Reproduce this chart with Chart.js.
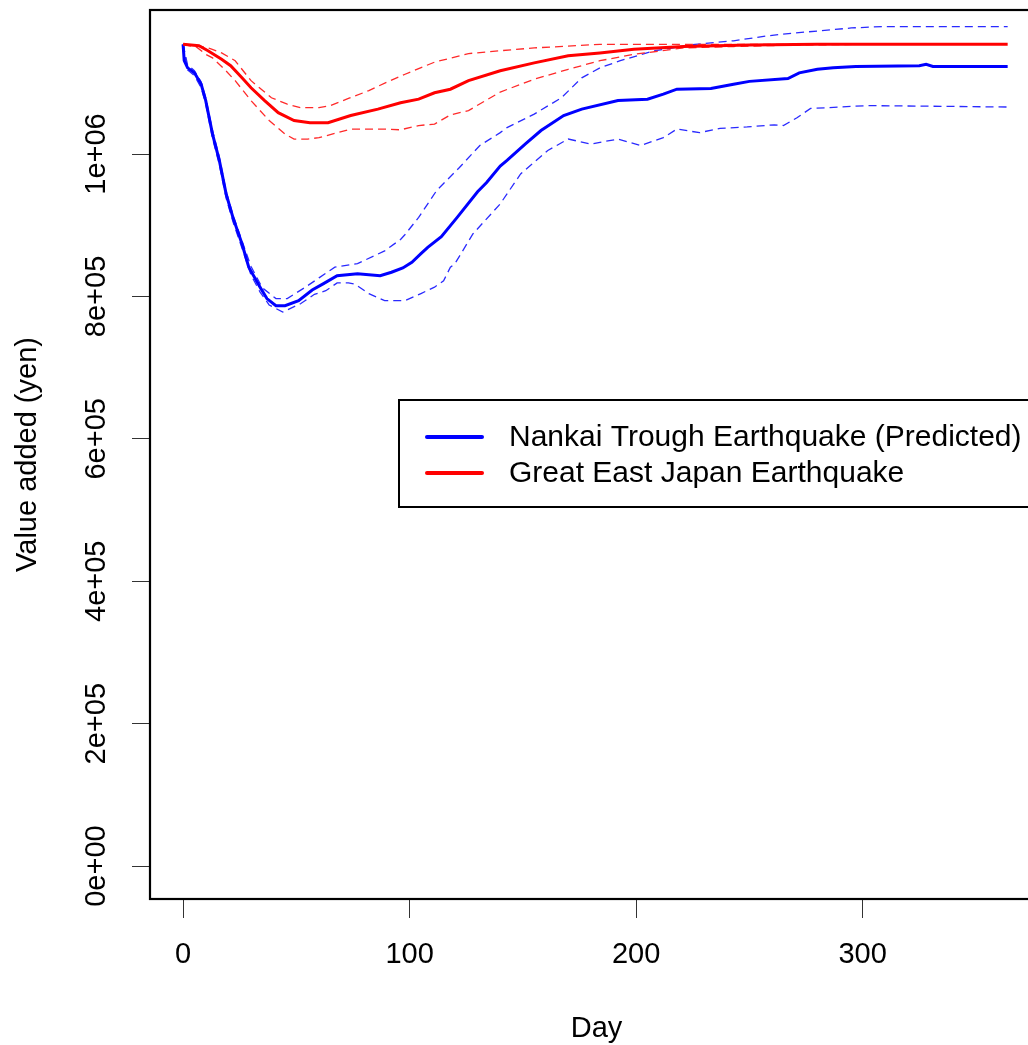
<!DOCTYPE html>
<html>
<head>
<meta charset="utf-8">
<script src="https://cdn.jsdelivr.net/npm/chart.js@4.4.1/dist/chart.umd.min.js"></script>
<style>
body { margin: 0; background: #fff; overflow: hidden; }
</style>
</head>
<body>
<canvas id="chart" width="1050" height="1045"></canvas>
<script>
// Nankai Trough (predicted) - blue
const nankaiDays = [0, 0.5, 2, 5, 8, 10, 13, 16, 19, 22, 26, 29, 34, 37, 41, 45, 51, 57, 62, 68, 77, 87, 92, 97, 101, 105, 108, 114, 121, 130, 134, 140, 143, 151, 158, 168, 176, 192, 205, 212, 218, 233, 243, 250, 267, 272, 280, 287, 297, 325, 328, 331, 364]
const nankaiMid = [1154000, 1131000, 1121000, 1114000, 1098000, 1075000, 1028000, 991000, 944000, 911000, 874000, 841000, 813000, 797000, 787000, 787000, 794000, 809000, 818000, 829000, 832000, 829000, 834000, 840000, 848000, 860000, 869000, 884000, 911000, 947000, 960000, 983000, 991000, 1014000, 1033000, 1054000, 1063000, 1075000, 1077000, 1084000, 1091000, 1092000, 1098000, 1102000, 1106000, 1114000, 1119000, 1121000, 1123000, 1124000, 1126000, 1123000, 1123000]

const nankaiHighDays = [0, 2, 5, 8, 10, 13, 16, 19, 22, 26, 30, 35, 41, 46, 54, 60, 67, 77, 89, 96, 98, 104, 112, 122, 131, 140, 143, 155, 167, 176, 184, 193, 208, 226, 243, 258, 270, 281, 295, 309, 364]
const nankaiHigh = [1154000, 1125000, 1117000, 1101000, 1079000, 1033000, 996000, 948000, 915000, 878000, 842000, 812000, 797000, 797000, 813000, 826000, 841000, 846000, 864000, 880000, 887000, 911000, 949000, 981000, 1012000, 1030000, 1037000, 1056000, 1079000, 1107000, 1121000, 1131000, 1145000, 1154000, 1159000, 1166000, 1170000, 1173000, 1177000, 1179000, 1179000]

const nankaiLowDays = [0, 2, 5, 8, 10, 13, 16, 19, 22, 26, 30, 34, 38, 44, 52, 58, 63, 68, 73, 76, 82, 89, 98, 105, 111, 115, 118, 120, 128, 140, 149, 161, 170, 180, 192, 202, 212, 218, 228, 237, 249, 261, 265, 271, 277, 284, 302, 364]
const nankaiLow = [1154000, 1118000, 1110000, 1093000, 1070000, 1022000, 985000, 938000, 905000, 868000, 830000, 806000, 788000, 778000, 790000, 803000, 808000, 819000, 819000, 817000, 804000, 794000, 794000, 804000, 813000, 822000, 841000, 846000, 888000, 930000, 972000, 1005000, 1021000, 1014000, 1021000, 1012000, 1023000, 1035000, 1030000, 1036000, 1038000, 1041000, 1040000, 1051000, 1064000, 1065000, 1068000, 1066000]

// Great East Japan - red
const tohokuDays = [0, 7, 11, 17, 21, 26, 30, 36, 42, 49, 56, 64, 74, 86, 96, 104, 111, 118, 126, 140, 155, 170, 184, 199, 221, 250, 280, 364]
const tohokuMid = [1154000, 1152000, 1145000, 1133000, 1124000, 1107000, 1093000, 1075000, 1058000, 1047000, 1044000, 1044000, 1054000, 1063000, 1072000, 1077000, 1086000, 1091000, 1103000, 1117000, 1128000, 1138000, 1142000, 1147000, 1151000, 1153000, 1154000, 1154000]

const tohokuHighDays = [0, 7, 12, 17, 23, 30, 39, 46, 52, 60, 65, 73, 82, 90, 98, 111, 126, 140, 155, 184, 213, 300]
const tohokuHigh = [1154000, 1152000, 1148000, 1142000, 1131000, 1103000, 1079000, 1070000, 1065000, 1065000, 1068000, 1078000, 1089000, 1101000, 1112000, 1129000, 1141000, 1145000, 1149000, 1154000, 1154000, 1154000]

const tohokuLowDays = [0, 6, 10, 13, 18, 23, 30, 38, 45, 49, 55, 60, 74, 89, 96, 104, 111, 118, 126, 140, 155, 170, 184, 199, 221, 243, 270, 300]
const tohokuLow = [1154000, 1150000, 1140000, 1135000, 1120000, 1103000, 1075000, 1047000, 1028000, 1021000, 1021000, 1023000, 1035000, 1035000, 1034000, 1040000, 1042000, 1055000, 1061000, 1087000, 1105000, 1119000, 1131000, 1140000, 1149000, 1151000, 1153000, 1154000]

const xTicks = [0, 100, 200, 300]
const yTicks = [0, 200000, 400000, 600000, 800000, 1000000]
const yTickLabels = ['0e+00', '2e+05', '4e+05', '6e+05', '8e+05', '1e+06']
const legendLabels = ['Nankai Trough Earthquake (Predicted)', 'Great East Japan Earthquake']

const FONT = '"Liberation Sans", Arial, Helvetica, sans-serif'
Chart.defaults.font.family = FONT

function pairs(xs, ys) {
    return xs.map((x, i) => ({ x: x, y: ys[i] }))
}

function line(xs, ys, color, dashed, order) {
    return {
        data: pairs(xs, ys),
        borderColor: color,
        borderWidth: dashed ? 1.3 : 3,
        borderDash: dashed ? [8, 5] : [],
        pointRadius: 0,
        tension: 0,
        fill: false,
        order: order
    }
}

const rPlot = {
    id: 'rPlot',
    afterDatasetsDraw(chart) {
        const ctx = chart.ctx
        const a = chart.chartArea
        const yScale = chart.scales.y
        ctx.save()
        // box
        ctx.strokeStyle = '#000'
        ctx.lineWidth = 2.2
        ctx.strokeRect(a.left, a.top, a.right - a.left, a.bottom - a.top)

        // y tick labels, rotated like R
        ctx.fillStyle = '#000'
        ctx.font = '29px ' + FONT
        ctx.textAlign = 'center'
        ctx.textBaseline = 'middle'
        yTicks.forEach(function (v, i) {
            ctx.save()
            ctx.translate(97, yScale.getPixelForValue(v))
            ctx.rotate(-Math.PI / 2)
            ctx.fillText(yTickLabels[i], 0, 0)
            ctx.restore()
        })

        // axis titles
        ctx.fillText('Day', (a.left + a.right) / 2, 1029)
        ctx.save()
        ctx.translate(28, (a.top + a.bottom) / 2)
        ctx.rotate(-Math.PI / 2)
        ctx.fillText('Value added (yen)', 0, 0)
        ctx.restore()

        // legend
        ctx.fillStyle = '#fff'
        ctx.fillRect(399, 400, 660, 107)
        ctx.strokeStyle = '#000'
        ctx.lineWidth = 2
        ctx.strokeRect(399, 400, 660, 107)
        const colors = ['#0000ff', '#ff0000']
        const rows = [437, 473]
        ctx.lineCap = 'round'
        ctx.lineWidth = 4
        ctx.textAlign = 'left'
        ctx.font = '30px ' + FONT
        legendLabels.forEach(function (label, i) {
            ctx.strokeStyle = colors[i]
            ctx.beginPath()
            ctx.moveTo(427, rows[i])
            ctx.lineTo(482, rows[i])
            ctx.stroke()
            ctx.fillStyle = '#000'
            ctx.fillText(label, 509, rows[i] + 1)
        })
        ctx.restore()
    }
}

new Chart(document.getElementById('chart'), {
    type: 'line',
    data: {
        datasets: [
            line(tohokuDays, tohokuMid, '#ff0000', false, 0),
            line(tohokuHighDays, tohokuHigh, '#ff2a2a', true, 1),
            line(tohokuLowDays, tohokuLow, '#ff2a2a', true, 1),
            line(nankaiDays, nankaiMid, '#0000ff', false, 2),
            line(nankaiHighDays, nankaiHigh, '#2a2aff', true, 3),
            line(nankaiLowDays, nankaiLow, '#2a2aff', true, 3)
        ]
    },
    options: {
        responsive: false,
        animation: false,
        layout: { padding: { left: 0, top: 10, right: 7, bottom: 0 } },
        plugins: { legend: { display: false }, tooltip: { enabled: false } },
        scales: {
            x: {
                type: 'linear',
                min: -14.6,
                max: 379.6,
                afterBuildTicks: function (scale) { scale.ticks = xTicks.map(v => ({ value: v })) },
                afterFit: function (scale) { scale.height = 146 },
                border: { display: false },
                grid: { drawOnChartArea: false, drawTicks: true, tickLength: 19, color: '#333', lineWidth: 1 },
                ticks: {
                    color: '#000',
                    font: { size: 29 },
                    padding: 20,
                    maxRotation: 0,
                    callback: function (v) { return String(v) }
                }
            },
            y: {
                type: 'linear',
                min: -46240,
                max: 1202240,
                afterBuildTicks: function (scale) { scale.ticks = yTicks.map(v => ({ value: v })) },
                afterFit: function (scale) { scale.width = 150 },
                border: { display: false },
                grid: { drawOnChartArea: false, drawTicks: true, tickLength: 18, color: '#333', lineWidth: 1 },
                ticks: { display: false }
            }
        }
    },
    plugins: [rPlot]
})
</script>
</body>
</html>
